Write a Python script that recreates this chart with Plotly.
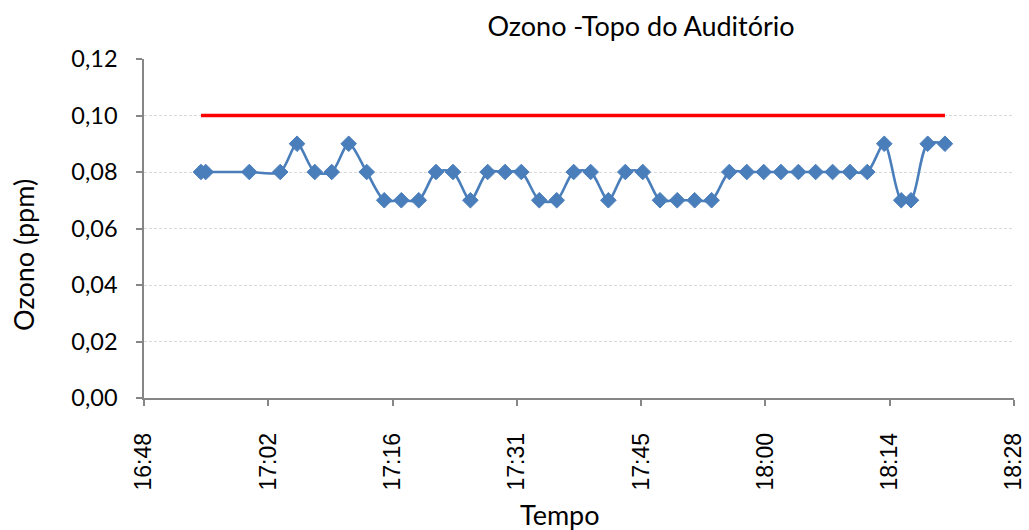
import plotly.graph_objects as go

# Measurement times (HH:MM:SS) and ozone readings (ppm)
times = [
    "16:54:36", "16:55:09", "17:00:12", "17:03:47", "17:05:44", "17:07:47",
    "17:09:45", "17:11:43", "17:13:48", "17:15:50", "17:17:49", "17:19:50",
    "17:21:50", "17:23:48", "17:25:49", "17:27:49", "17:29:50", "17:31:43",
    "17:33:48", "17:35:49", "17:37:47", "17:39:45", "17:41:48", "17:43:46",
    "17:45:47", "17:47:47", "17:49:47", "17:51:48", "17:53:46", "17:55:49",
    "17:57:50", "17:59:48", "18:01:48", "18:03:49", "18:05:49", "18:07:47",
    "18:09:48", "18:11:48", "18:13:46", "18:15:44", "18:16:52", "18:18:48",
    "18:20:48",
]
ozone_ppm = [
    0.08, 0.08, 0.08, 0.08, 0.09, 0.08,
    0.08, 0.09, 0.08, 0.07, 0.07, 0.07,
    0.08, 0.08, 0.07, 0.08, 0.08, 0.08,
    0.07, 0.07, 0.08, 0.08, 0.07, 0.08,
    0.08, 0.07, 0.07, 0.07, 0.07, 0.08,
    0.08, 0.08, 0.08, 0.08, 0.08, 0.08,
    0.08, 0.08, 0.09, 0.07, 0.07, 0.09,
    0.09,
]
limit_ppm = 0.10

# Axis ticks (Excel-style day fractions 0.70 ... 0.77)
x_tick_times = ["16:48:00", "17:02:24", "17:16:48", "17:31:12",
                "17:45:36", "18:00:00", "18:14:24", "18:28:48"]
x_tick_labels = ["16:48", "17:02", "17:16", "17:31",
                 "17:45", "18:00", "18:14", "18:28"]
y_ticks = [0.00, 0.02, 0.04, 0.06, 0.08, 0.10, 0.12]

DAY = "2000-01-01 "
xs = [DAY + t for t in times]
tick_x = [DAY + t for t in x_tick_times]

FONT = "Lato, 'Open Sans', sans-serif"
ARIAL = "'Liberation Sans', Arial, sans-serif"
AXIS_GREY = "#868686"
BLUE = "#4A7EBB"

fig = go.Figure()

# Reference limit
fig.add_trace(go.Scatter(
    x=[xs[0], xs[-1]], y=[limit_ppm, limit_ppm],
    mode="lines", line=dict(color="#FF0000", width=3.3),
    hoverinfo="skip", showlegend=False,
))

# Measured series
fig.add_trace(go.Scatter(
    x=xs, y=ozone_ppm, mode="lines+markers",
    line=dict(color=BLUE, width=2.6, shape="spline", smoothing=0.8),
    marker=dict(symbol="diamond", size=12, color=BLUE,
                line=dict(color=BLUE, width=1)),
    showlegend=False,
))

fig.update_layout(
    width=1029, height=530,
    margin=dict(l=144, r=15, t=59, b=132, autoexpand=False),
    paper_bgcolor="white", plot_bgcolor="white",
    font=dict(family=FONT, size=23.5, color="#000000"),
    separators=",.",
    title=dict(text="Ozono -Topo do Auditório", xref="container",
               x=0.623, xanchor="center",
               yref="container", y=0.949, yanchor="middle",
               font=dict(size=27)),
    annotations=[
        dict(text="Tempo", xref="paper", yref="paper",
             x=0.478, y=-0.343, xanchor="center", yanchor="middle",
             showarrow=False, font=dict(family=FONT, size=27)),
        dict(text="Ozono (ppm)", xref="paper", yref="paper",
             x=-0.138, y=0.422, xanchor="center", yanchor="middle",
             textangle=-90, showarrow=False,
             font=dict(family=FONT, size=27)),
    ],
)

fig.update_xaxes(
    type="date", automargin=False,
    range=[tick_x[0], tick_x[-1]],
    tickmode="array", tickvals=tick_x, ticktext=x_tick_labels,
    tickfont=dict(family=ARIAL, size=23),
    tickangle=-90, ticks="outside", ticklen=6, tickwidth=1.5,
    tickcolor=AXIS_GREY, ticklabelstandoff=18,
    showline=True, linecolor=AXIS_GREY, linewidth=1.5,
    showgrid=False, zeroline=False,
)

fig.update_yaxes(
    automargin=False,
    range=[0, 0.12],
    tickmode="array", tickvals=y_ticks, tickformat=".2f",
    ticks="outside", ticklen=6, tickwidth=1.5, tickcolor=AXIS_GREY,
    ticklabelstandoff=14,
    showline=True, linecolor=AXIS_GREY, linewidth=1.5,
    showgrid=True, gridcolor="#D9D9D9", griddash="3px,2px", gridwidth=1,
    zeroline=False,
)

fig.write_html("out.html")
